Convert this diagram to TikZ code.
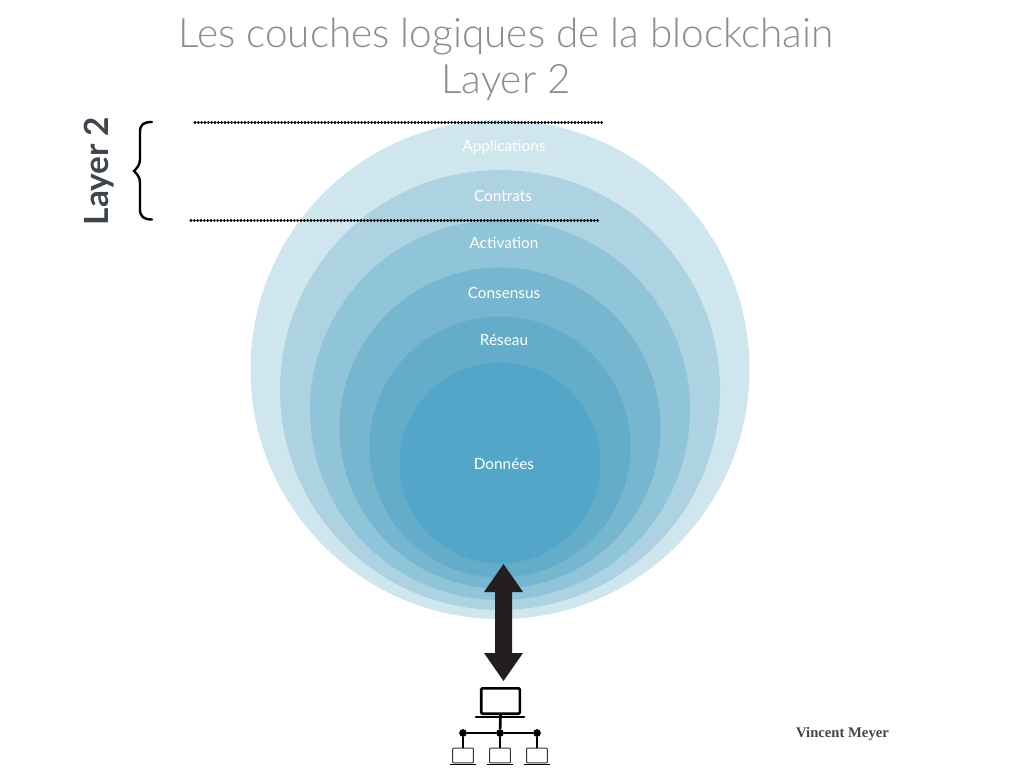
\documentclass[tikz,border=0pt]{standalone}
\usepackage{fontspec}
\setmainfont{Lato}
\newfontfamily\titlefont{Lato Light}
\newfontfamily\signfont{Liberation Serif}
\definecolor{ringa}{HTML}{D0E6EF}
\definecolor{ringb}{HTML}{ADD3E2}
\definecolor{ringc}{HTML}{8FC4D9}
\definecolor{ringd}{HTML}{77B6CF}
\definecolor{ringe}{HTML}{63ADCB}
\definecolor{ringf}{HTML}{53A6C8}
\definecolor{inkdark}{HTML}{231F20}
\definecolor{slate}{HTML}{3F454E}
\definecolor{titlegrey}{HTML}{8C8C8C}
\tikzset{
  ringlabel/.style={text=white,font=\fontsize{11.5}{13}\selectfont,inner sep=0pt},
  titleline/.style={text=titlegrey,font=\titlefont\fontsize{30.4}{36}\selectfont,inner sep=0pt},
  dotline/.style={line width=2.3pt,line cap=round,dash pattern=on 0pt off 2.5pt,black},
  brace/.style={line width=1.8pt,line cap=round,black},
  netline/.style={line width=2pt,black},
  laptopbig/.style={draw=black,line width=2pt,rounded corners=1pt,minimum width=29pt,minimum height=19pt,inner sep=0pt},
  laptopsmall/.style={draw=black!80,line width=0.7pt,rounded corners=0.5pt,minimum width=15.5pt,minimum height=11pt,inner sep=0pt},
  netdot/.style={circle,fill=black,minimum size=5.8pt,inner sep=0pt},
}
\begin{document}
\begin{tikzpicture}[x=0.75pt,y=-0.75pt]
\useasboundingbox (0,0) rectangle (1024,768);
% rings
\fill[ringa] (500,369.5) circle (249.5);
\fill[ringb] (500,390) circle (220);
\fill[ringc] (500,410) circle (190);
\fill[ringd] (500,428) circle (160.5);
\fill[ringe] (500,447) circle (130.5);
\fill[ringf] (500,463) circle (100.5);
% title
\node[titleline] (titlea) at (506,37) {Les couches logiques de la blockchain};
\node[titleline] (titleb) at (506,83) {Layer 2};
% ring labels
\node[ringlabel] (apps) at (504,147.5) {Applications};
\node[ringlabel] (contrats) at (503,196.5) {Contrats};
\node[ringlabel] (activation) at (504,242.5) {Activation};
\node[ringlabel] (consensus) at (504,292.5) {Consensus};
\node[ringlabel] (reseau) at (504,339.5) {Réseau};
\node[ringlabel] (donnees) at (504,463.5) {Données};
% layer bracket
\node[rotate=90,text=slate,font=\bfseries\fontsize{25}{30}\selectfont,inner sep=0pt] (layer) at (99,171) {Layer 2};
\coordinate (topa) at (195,122.5);
\coordinate (topb) at (604,122.5);
\coordinate (bota) at (191,220.5);
\coordinate (botb) at (600,220.5);
\draw[dotline] (topa) -- (topb);
\draw[dotline] (bota) -- (botb);
\draw[brace] (152,122) .. controls (144,122) and (140,124) .. (140,132)
  -- (140,159) .. controls (140,165) and (137,168) .. (134,171)
  .. controls (137,174) and (140,177) .. (140,183)
  -- (140,209) .. controls (140,217) and (144,219.5) .. (152,219.5);
% double arrow
\fill[inkdark] (503.5,564) -- (523,592) -- (512,592) -- (512,653) -- (523,653)
  -- (503.5,681) -- (484,653) -- (495,653) -- (495,592) -- (484,592) -- cycle;
% network
\node[laptopbig] (main) at (500.5,701) {};
\draw[line width=2pt,black,line cap=round] (476,717) -- (524,717);
\node[netdot] (dl) at (463,733) {};
\node[netdot] (dm) at (500,733) {};
\node[netdot] (dr) at (537,733) {};
\node[laptopsmall] (pl) at (463,755.5) {};
\node[laptopsmall] (pm) at (500,755.5) {};
\node[laptopsmall] (pr) at (537,755.5) {};
\draw[netline] (main.south) -- (dm);
\draw[netline] (dl) -- (dm) -- (dr);
\draw[netline] (dl) -- (pl.north);
\draw[netline] (dm) -- (pm.north);
\draw[netline] (dr) -- (pr.north);
\foreach \xc in {463,500,537} \draw[line width=1.1pt,black] (\xc-13,764.5) -- (\xc+13,764.5);
% signature
\node[text=slate,font=\signfont\bfseries\fontsize{11}{13}\selectfont,inner sep=0pt] (sign) at (842.5,734) {Vincent Meyer};
\end{tikzpicture}
\end{document}
